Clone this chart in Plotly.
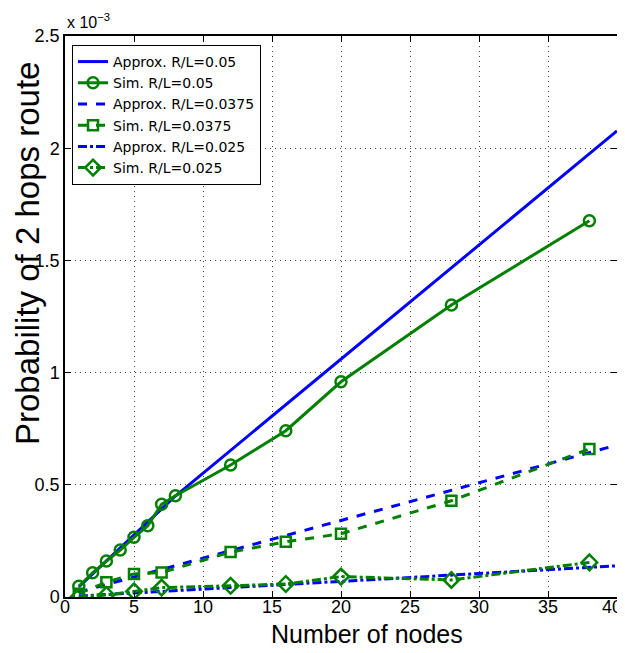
import plotly.graph_objects as go

# data (y in units of 1e-3)
approx005_x = [1, 8, 40]
approx005_y = [0.045, 0.45, 2.077]
approx_x = [1, 40]
approx00375_y = [0.022, 0.677]
approx0025_y = [0.004, 0.139]

sim005_x = [1, 2, 3, 4, 5, 6, 7, 8, 12, 16, 20, 28, 38]
sim005_y = [0.048, 0.108, 0.160, 0.209, 0.266, 0.318, 0.413, 0.451, 0.588, 0.741, 0.959, 1.301, 1.677]

sim_x = [1, 3, 5, 7, 12, 16, 20, 28, 38]
sim00375_y = [0.015, 0.066, 0.103, 0.109, 0.200, 0.246, 0.282, 0.429, 0.660]
sim0025_y = [0.001, 0.009, 0.025, 0.042, 0.050, 0.058, 0.091, 0.076, 0.154]

xticks = [0, 5, 10, 15, 20, 25, 30, 35, 40]
xticklabels = ["0", "5", "10", "15", "20", "25", "30", "35", "40&nbsp;&nbsp;"]
yticks = [0, 0.5, 1, 1.5, 2, 2.5]
yticklabels = ["0", "0.5", "1", "1.5", "2", "2.5"]

BLUE = "rgb(0,0,255)"
GREEN = "rgb(0,128,0)"
LW = 3

fig = go.Figure()
fig.add_trace(go.Scatter(x=approx005_x, y=approx005_y, mode="lines", name="Approx. R/L=0.05",
                         line=dict(color=BLUE, width=LW)))
fig.add_trace(go.Scatter(x=sim005_x, y=sim005_y, mode="lines+markers", name="Sim. R/L=0.05",
                         line=dict(color=GREEN, width=LW),
                         marker=dict(symbol="circle-open", size=11, color=GREEN, line=dict(width=2.5, color=GREEN))))
fig.add_trace(go.Scatter(x=approx_x, y=approx00375_y, mode="lines", name="Approx. R/L=0.0375",
                         line=dict(color=BLUE, width=LW, dash="dash")))
fig.add_trace(go.Scatter(x=sim_x, y=sim00375_y, mode="lines+markers", name="Sim. R/L=0.0375",
                         line=dict(color=GREEN, width=LW, dash="dash"),
                         marker=dict(symbol="square-open", size=10, color=GREEN, line=dict(width=2.5, color=GREEN))))
fig.add_trace(go.Scatter(x=approx_x, y=approx0025_y, mode="lines", name="Approx. R/L=0.025",
                         line=dict(color=BLUE, width=LW, dash="dashdot")))
fig.add_trace(go.Scatter(x=sim_x, y=sim0025_y, mode="lines+markers", name="Sim. R/L=0.025",
                         line=dict(color=GREEN, width=LW, dash="dashdot"),
                         marker=dict(symbol="diamond-open", size=12, color=GREEN, line=dict(width=2.5, color=GREEN))))

axis_common = dict(showgrid=True, gridcolor="rgb(70,70,70)", griddash="1px,4px", gridwidth=1,
                   showline=True, linecolor="black", linewidth=1.5, mirror="ticks",
                   ticks="inside", ticklen=6, tickcolor="black", zeroline=False,
                   tickfont=dict(size=18), automargin=False)

fig.update_layout(
    width=625, height=653,
    margin=dict(l=57, r=16, t=28, b=64),
    paper_bgcolor="white", plot_bgcolor="white",
    font=dict(family="Liberation Sans, Arial, sans-serif", color="black", size=15),
    showlegend=True,
    legend=dict(x=0.0127, y=0.984, xanchor="left", yanchor="top",
                bgcolor="white", bordercolor="black", borderwidth=1,
                font=dict(size=14, family="DejaVu Sans, Liberation Sans, sans-serif"),
                tracegroupgap=0, itemwidth=30),
)
fig.update_xaxes(range=[0, 40], tickvals=xticks, ticktext=xticklabels, ticklabelstandoff=-7, **axis_common)
fig.update_yaxes(range=[0, 2.5], tickvals=yticks, ticktext=yticklabels, **axis_common)

# axis titles
fig.add_annotation(xref="paper", yref="paper", x=(366.5 - 65) / 552, y=-(634 - 597) / 561,
                   xanchor="center", yanchor="middle", text="Number of nodes", showarrow=False,
                   font=dict(size=25))
fig.add_annotation(xref="paper", yref="paper", x=-(65 - 28) / 552, y=(597 - 254) / 561,
                   xanchor="center", yanchor="middle", textangle=-90,
                   text="Probability of 2 hops route", showarrow=False,
                   font=dict(size=33))
fig.add_annotation(xref="paper", yref="paper", x=0.0, y=1.0, xanchor="left", yanchor="bottom",
                   yshift=3, text="x 10<sup>−3</sup>", showarrow=False, font=dict(size=16))

fig.write_html("out.html")
